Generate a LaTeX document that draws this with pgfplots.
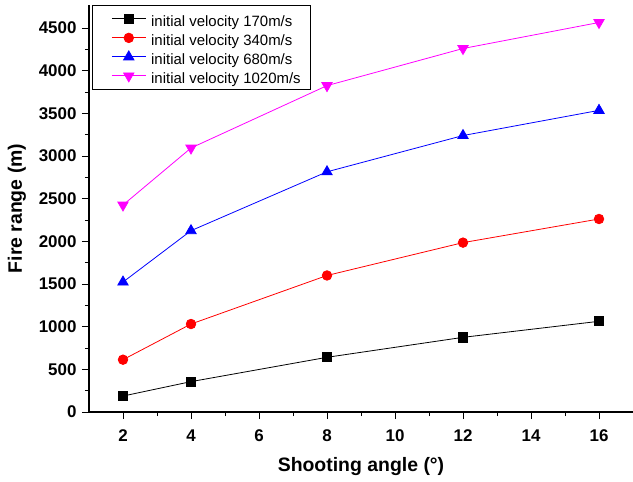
\documentclass[border=0pt]{standalone}
\usepackage{fontspec}
\setmainfont{Liberation Sans}
\usepackage{pgfplots}
\pgfplotsset{compat=1.18}
\definecolor{mag}{RGB}{255,0,255}
\definecolor{blu}{RGB}{0,0,255}
\definecolor{rd}{RGB}{255,0,0}
\begin{document}
\begin{tikzpicture}
\begin{axis}[
  at={(0,0)}, anchor=south west,
  scale only axis,
  width=544bp, height=407bp,
  xmin=1, xmax=17, ymin=0, ymax=4770,
  axis lines=left,
  axis line style={-, line width=1.2pt},
  xtick={2,4,6,8,10,12,14,16},
  ytick={0,500,1000,1500,2000,2500,3000,3500,4000,4500},
  minor x tick num=1, minor y tick num=1,
  tick align=outside,
  major tick length=7bp, minor tick length=4bp,
  tick style={line width=1pt, black},
  /pgf/number format/assume math mode=true,
  /pgf/number format/1000 sep={},
  ticklabel style={font=\bfseries\fontsize{17}{17}\selectfont},
  xticklabel style={yshift=-7bp},
  yticklabel style={xshift=-2bp},
  xlabel={\bfseries Shooting angle (°)},
  ylabel={\bfseries Fire range (m)},
  label style={font=\bfseries\fontsize{19.5}{20}\selectfont},
  ylabel style={at={(axis description cs:-0.1324,0.5)}, anchor=center, rotate=0},
  xlabel style={at={(axis description cs:0.5,-0.145)}, anchor=base},
  legend style={at={(axis description cs:0.0055,1)}, anchor=north west, draw=black, line width=0.8pt,
    font=\fontsize{15}{17}\selectfont, row sep=0bp, inner xsep=8bp, inner ysep=4bp,
    nodes={text height=16bp, text depth=1bp, inner ysep=1bp}},
  legend cell align=left,
  legend image code/.code={\draw[#1, line width=0.8pt] (11bp,0bp) -- (45bp,0bp);
    \draw[#1, only marks] plot coordinates {(28bp,0bp)};
    \path (0bp,0bp) (48bp,0bp);},
]
\addplot[black, line width=0.8pt, mark=square*, mark size=4.6pt, mark options={solid}] coordinates {
 (2,187) (4,356) (8,641) (12,875) (16,1063)};
\addlegendentry{initial velocity 170m/s}
\addplot[rd, line width=0.8pt, mark=*, mark size=4.8pt] coordinates {
 (2,613) (4,1031) (8,1600) (12,1985) (16,2262)};
\addlegendentry{initial velocity 340m/s}
\addplot[blu, line width=0.8pt, mark=triangle*, mark size=6pt] coordinates {
 (2,1523) (4,2125) (8,2815) (12,3240) (16,3535)};
\addlegendentry{initial velocity 680m/s}
\addplot[mag, line width=0.8pt, mark=triangle*, mark size=6pt, mark options={rotate=180}] coordinates {
 (2,2426) (4,3094) (8,3825) (12,4260) (16,4565)};
\addlegendentry{initial velocity 1020m/s}
\end{axis}
\pgfresetboundingbox
\path[use as bounding box] (-89bp,-70bp) rectangle (544bp,412bp);
\end{tikzpicture}
\end{document}
